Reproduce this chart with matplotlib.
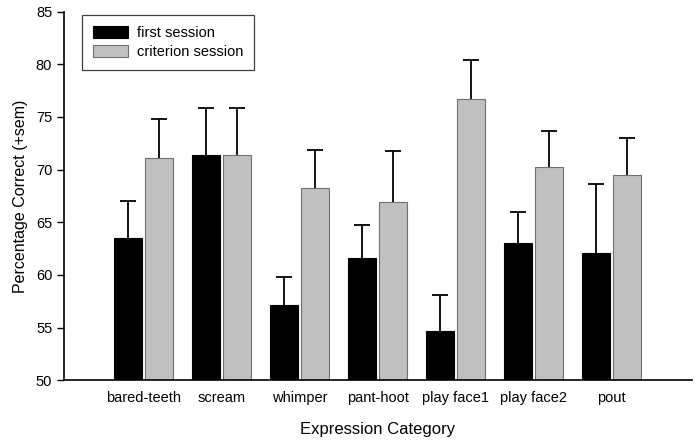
import matplotlib
matplotlib.use('Agg')
import matplotlib.pyplot as plt
import numpy as np

plt.rcParams['font.family'] = ['Liberation Sans', 'DejaVu Sans']

categories = ['bared-teeth', 'scream', 'whimper', 'pant-hoot', 'play face1', 'play face2', 'pout']
first_mean = [63.5, 71.4, 57.15, 61.6, 54.7, 63.0, 62.1]
first_sem = [3.5, 4.5, 2.7, 3.1, 3.4, 3.0, 6.5]
crit_mean = [71.1, 71.4, 68.3, 66.9, 76.7, 70.25, 69.45]
crit_sem = [3.75, 4.5, 3.6, 4.85, 3.7, 3.45, 3.55]

fig = plt.figure(figsize=(6.99, 4.42), dpi=100)
ax = fig.add_axes([0.0916, 0.1396, 0.8984, 0.834])

x = np.arange(len(categories))
w = 0.355
off = 0.2
ax.bar(x - off, first_mean, w, color='black', edgecolor='black',
       linewidth=0.8, label='first session', zorder=2)
ax.bar(x + off, crit_mean, w, color='#c0c0c0', edgecolor='#707070',
       linewidth=0.8, label='criterion session', zorder=2)

# upper error only: hide the lower caps
for means, sems in [(first_mean, first_sem), (crit_mean, crit_sem)]:
    xs = x - off if means is first_mean else x + off
    eb = ax.errorbar(xs, means, yerr=[np.zeros(len(x)), sems], fmt='none',
                     ecolor='black', elinewidth=1.3, capsize=6, capthick=1.3, zorder=1)
    eb[1][0].set_visible(False)

ax.set_ylim(50, 85)
ax.set_xlim(-1.02, 7.03)
ax.set_yticks(np.arange(50, 86, 5))
ax.set_xticks(x)
ax.set_xticklabels(categories, fontsize=10.5)
ax.tick_params(axis='x', length=0, pad=8)
ax.tick_params(axis='y', length=5, width=1, labelsize=10.5, direction='out')
ax.spines['top'].set_visible(False)
ax.spines['right'].set_visible(False)
ax.spines['left'].set_linewidth(1.2)
ax.spines['bottom'].set_linewidth(1.2)

ax.set_ylabel('Percentage Correct (+sem)', fontsize=11.5, labelpad=6)
ax.set_xlabel('Expression Category', fontsize=12, labelpad=12)

leg = ax.legend(loc='upper left', bbox_to_anchor=(0.0287, 0.99), fontsize=10.5,
                fancybox=False, framealpha=1, edgecolor='#404040',
                handlelength=2.4, handleheight=0.9, borderpad=0.75,
                labelspacing=0.3, handletextpad=0.6, borderaxespad=0)
leg.get_frame().set_linewidth(0.9)

fig.savefig('out.png', dpi=100)
